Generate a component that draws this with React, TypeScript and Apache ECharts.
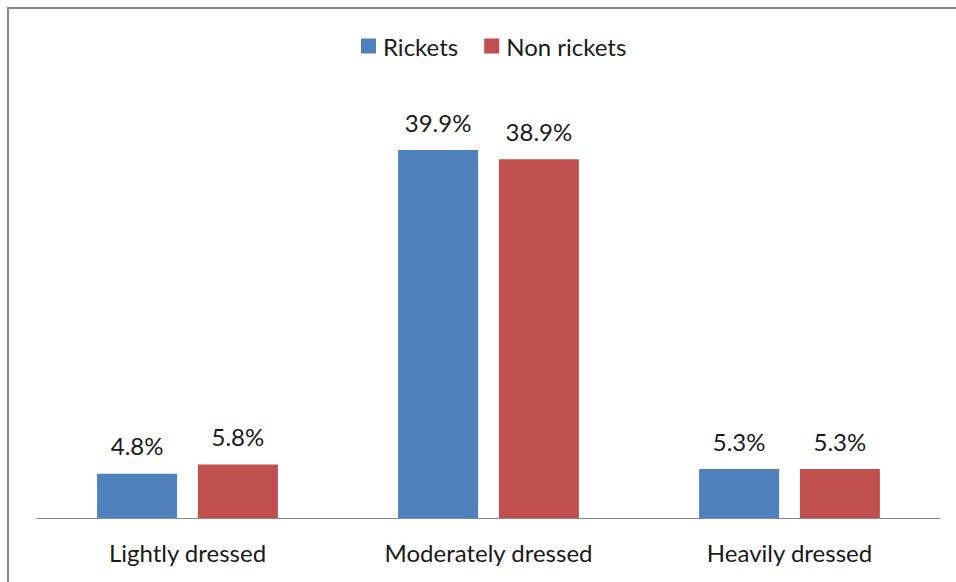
import React, { useEffect, useRef } from "react";
import * as echarts from "echarts";

const categories = ["Lightly dressed", "Moderately dressed", "Heavily dressed"];
const rickets = [4.8, 39.9, 5.3];
const nonRickets = [5.8, 38.9, 5.3];
const seriesNames = ["Rickets", "Non rickets"];

const FONT = "Lato, 'Open Sans', sans-serif";

export default function App() {
  const ref = useRef<HTMLDivElement>(null);
  useEffect(() => {
    document.body.style.margin = "0";
    const chart = echarts.init(ref.current!, undefined, { renderer: "svg" });
    const label = {
      show: true,
      position: "top" as const,
      distance: 16,
      formatter: (p: any) => p.value.toFixed(1) + "%",
      fontFamily: FONT,
      fontSize: 24,
      color: "#1a1a1a",
    };
    chart.setOption({
      animation: false,
      backgroundColor: "#ffffff",
      graphic: [
        {
          type: "rect",
          shape: { x: 8, y: 8, width: 1000, height: 700 },
          style: { fill: "none", stroke: "#878787", lineWidth: 2 },
          silent: true,
        },
      ],
      legend: {
        data: seriesNames,
        top: 29,
        left: 356,
        itemWidth: 15,
        itemHeight: 15,
        itemGap: 26,
        icon: "rect",
        textStyle: { fontFamily: FONT, fontSize: 24, color: "#1a1a1a", padding: [0, 0, 0, 2] },
      },
      grid: { left: 37, right: 16, top: 103, bottom: 64, containLabel: false },
      xAxis: {
        type: "category",
        data: categories,
        axisLine: { show: true, lineStyle: { color: "#868686", width: 1 } },
        axisTick: { show: false },
        axisLabel: { fontFamily: FONT, fontSize: 24, color: "#1a1a1a", margin: 22 },
      },
      yAxis: {
        type: "value",
        min: 0,
        max: 45,
        show: false,
        splitLine: { show: false },
      },
      series: [
        {
          name: seriesNames[0],
          type: "bar",
          data: rickets,
          barWidth: 80,
          barGap: "26%",
          itemStyle: { color: "#4F81BD" },
          label,
        },
        {
          name: seriesNames[1],
          type: "bar",
          data: nonRickets,
          barWidth: 80,
          itemStyle: { color: "#C0504D" },
          label,
        },
      ],
    });
    return () => chart.dispose();
  }, []);
  return <div ref={ref} style={{ width: 956, height: 582 }} />;
}
